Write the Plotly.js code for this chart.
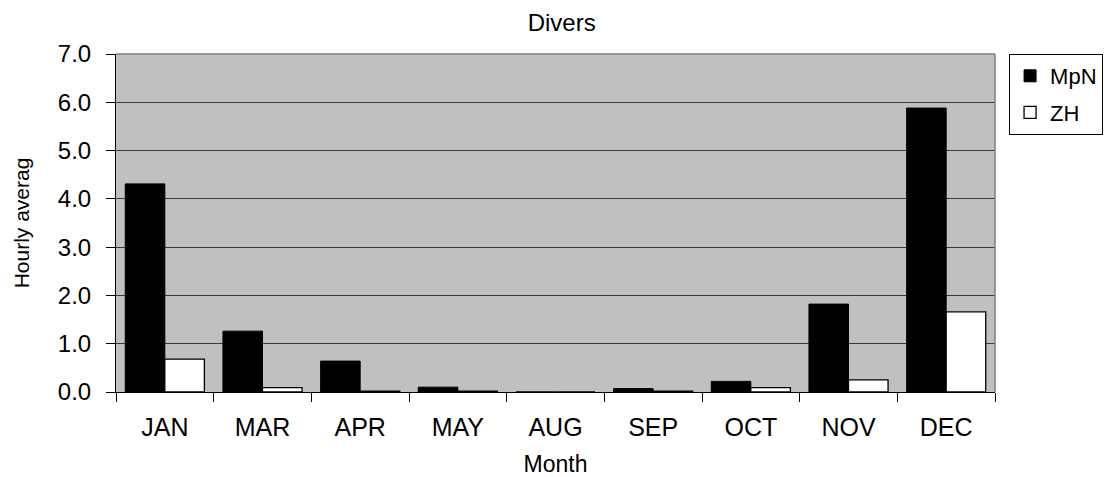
<!DOCTYPE html>
<html>
<head>
<meta charset="utf-8">
<script src="https://cdn.plot.ly/plotly-3.0.1.min.js"></script>
<style>html,body{margin:0;padding:0;background:#fff;}#chart{width:1116px;height:477px;}</style>
</head>
<body>
<div id="chart"></div>
<script>
const months = ["JAN", "MAR", "APR", "MAY", "AUG", "SEP", "OCT", "NOV", "DEC"];
const mpn = [4.31, 1.26, 0.64, 0.10, 0.0, 0.07, 0.22, 1.82, 5.88];
const zh = [0.68, 0.09, 0.02, 0.02, 0.0, 0.02, 0.09, 0.25, 1.66];
const yTicks = [0, 1, 2, 3, 4, 5, 6, 7];
const yTickText = yTicks.map(v => v.toFixed(1));

const font = "Arial, 'Liberation Sans', sans-serif";

const traces = [
  {type: "bar", name: "MpN", x: months, y: mpn, legendgroup: "a",
   marker: {color: "#000000", line: {color: "#000000", width: 1}}},
  {type: "bar", name: "ZH", x: months, y: zh, legendgroup: "b",
   marker: {color: "#ffffff", line: {color: "#000000", width: 1.3}}}
];

const layout = {
  width: 1116, height: 477,
  margin: {l: 116, r: 121, t: 54, b: 85, pad: 0},
  paper_bgcolor: "#ffffff",
  plot_bgcolor: "#c0c0c0",
  barmode: "group",
  bargap: 0.19,
  bargroupgap: 0,
  font: {family: font, color: "#000"},
  title: {text: "Divers", font: {family: font, size: 24, color: "#000"},
          x: 0.507, xref: "paper", xanchor: "center", y: 0.953, yanchor: "middle"},
  xaxis: {
    type: "category",
    showline: true, linecolor: "#000", linewidth: 1,
    ticks: "outside", tickson: "boundaries", ticklen: 9, tickcolor: "#000", tickwidth: 1,
    ticklabelstandoff: 13,
    tickfont: {family: font, size: 25, color: "#000"},
    showgrid: false, zeroline: false,
    title: {text: "Month", font: {family: font, size: 23, color: "#000"}, standoff: 16}
  },
  yaxis: {
    range: [0, 7],
    tickvals: yTicks, ticktext: yTickText,
    showline: true, linecolor: "#000", linewidth: 1,
    ticks: "outside", ticklen: 9, tickcolor: "#000", tickwidth: 1,
    ticklabelstandoff: 10,
    tickfont: {family: font, size: 24, color: "#000"},
    showgrid: true, gridcolor: "#3a3a3a", gridwidth: 1,
    zeroline: false,
    title: {text: "Hourly averag", font: {family: font, size: 21, color: "#000"}, standoff: 22}
  },
  shapes: [
    {type: "line", xref: "paper", yref: "paper", x0: 0, x1: 1, y0: 1, y1: 1,
     line: {color: "#808080", width: 1.5}},
    {type: "line", xref: "paper", yref: "paper", x0: 1, x1: 1, y0: 0, y1: 1,
     line: {color: "#808080", width: 1.5}}
  ],
  showlegend: true,
  legend: {
    x: 1.016, xanchor: "left", y: 1.0, yanchor: "top",
    bgcolor: "#ffffff", bordercolor: "#000", borderwidth: 1,
    font: {family: font, size: 22, color: "#000"},
    traceorder: "grouped", tracegroupgap: 5,
    itemwidth: 30
  }
};

Plotly.newPlot("chart", traces, layout, {displayModeBar: false, staticPlot: true});
</script>
</body>
</html>
